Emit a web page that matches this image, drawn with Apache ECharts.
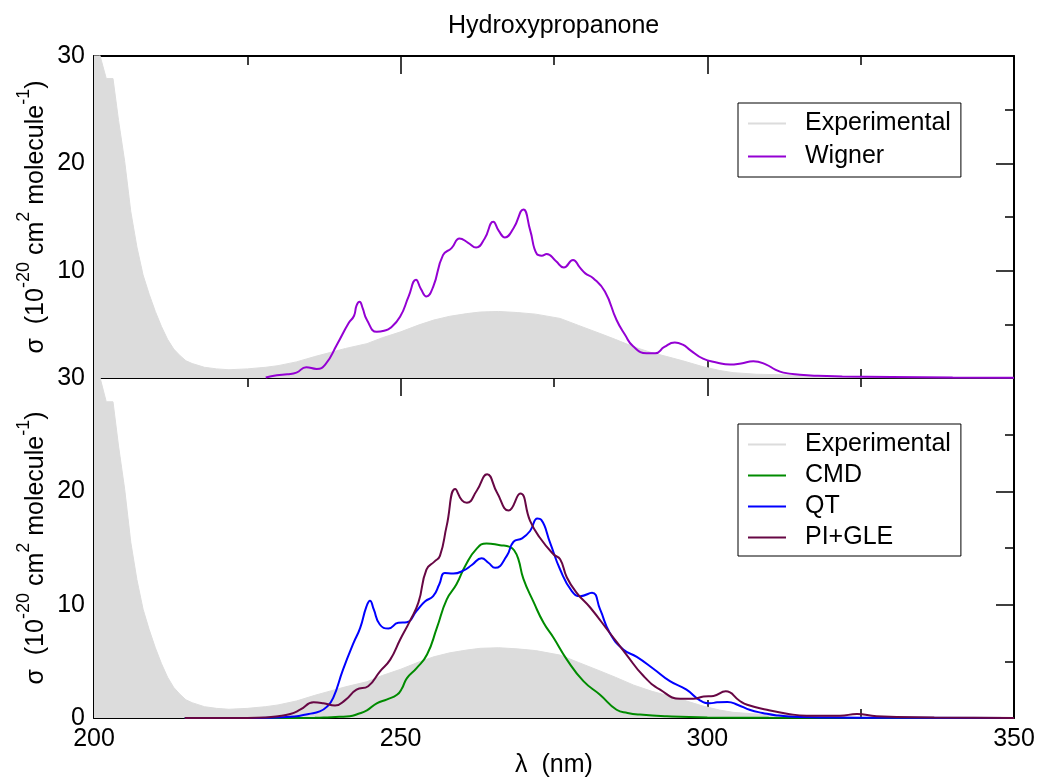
<!DOCTYPE html>
<html>
<head>
<meta charset="utf-8">
<title>Hydroxypropanone</title>
<script src="https://cdn.jsdelivr.net/npm/echarts@6/dist/echarts.min.js"></script>
<style>
  html, body { margin: 0; padding: 0; background: #ffffff; }
  #chart { width: 1037px; height: 781px; }
</style>
</head>
<body>
<div id="chart"></div>
<script>
// Absorption cross sections of hydroxypropanone, sigma in 1e-20 cm^2 molecule^-1, wavelength in nm

const experimentalWl = [200, 201, 202, 203.1, 204, 205, 206, 207, 208, 209, 210, 211, 212, 213, 214, 215, 216, 218, 220, 222, 225, 228, 230, 233, 236, 238, 241, 244.5, 247, 250, 253, 255.4, 258, 260.8, 263, 266, 269, 272, 276, 279, 282.5, 285, 288, 291, 293.4, 296, 299.3, 302, 304.2, 308, 312.4, 316, 320, 325, 330, 350];
const experimentalSigma = [33, 30, 27.9, 27.9, 24, 20.2, 15.5, 12.2, 9.6, 7.8, 6.2, 4.8, 3.6, 2.7, 2.1, 1.6, 1.35, 1.0, 0.85, 0.77, 0.85, 1.0, 1.15, 1.5, 2.0, 2.3, 2.75, 3.2, 3.75, 4.3, 4.95, 5.4, 5.75, 6.0, 6.15, 6.2, 6.1, 5.95, 5.55, 4.9, 4.15, 3.6, 2.9, 2.35, 2.0, 1.6, 1.05, 0.7, 0.5, 0.35, 0.3, 0.2, 0.12, 0.06, 0.02, 0];

const wignerWl = [228, 229.8, 231.5, 233, 234.6, 236.3, 237.7, 239.6, 241.5, 242.4, 242.8, 243.3, 243.8, 244.5, 246.1, 247.3, 248.3, 249.9, 251.3, 252.5, 253.3, 254.2, 255.3, 256.9, 258.3, 259.6, 261, 262.3, 263.7, 265.1, 266, 267, 268.4, 270, 271.1, 272.2, 273, 273.8, 275.3, 276.6, 278.1, 279.2, 280.1, 281.4, 283.3, 285.2, 286.6, 287.9, 290.1, 291.5, 293, 294.7, 296, 297.2, 299.3, 301.5, 303.7, 305.5, 307.5, 309.6, 311, 312.4, 315.1, 318, 322, 330, 340, 350];
const wignerSigma = [0.05, 0.25, 0.35, 0.5, 1.0, 0.85, 1.25, 3.1, 5.1, 5.8, 6.75, 7.1, 6.5, 5.4, 4.3, 4.4, 4.65, 5.7, 7.6, 9.15, 8.3, 7.6, 8.5, 11.45, 12.1, 13.0, 12.6, 12.15, 13.0, 14.55, 13.7, 13.1, 13.95, 15.7, 13.8, 11.55, 11.4, 11.55, 10.9, 10.3, 11.0, 10.3, 9.75, 9.3, 8.05, 5.4, 4.0, 2.95, 2.3, 2.3, 2.9, 3.3, 3.1, 2.6, 1.8, 1.45, 1.25, 1.35, 1.55, 1.25, 0.8, 0.5, 0.3, 0.2, 0.15, 0.1, 0.05, 0.03];

const cmdWl = [214.8, 230, 236, 238, 240, 241.7, 243, 244.5, 246.1, 247.8, 249.4, 250.2, 251, 252.6, 254.3, 255.9, 257.5, 259.1, 260.5, 262.4, 264, 266.2, 267.8, 268.5, 269.2, 270, 271.7, 273.3, 274.9, 277.1, 279.8, 282.5, 285.2, 287, 289, 293.4, 300, 310, 350];
const cmdSigma = [0, 0, 0.02, 0.05, 0.1, 0.15, 0.35, 0.67, 1.3, 1.65, 2.05, 2.6, 3.5, 4.4, 5.6, 7.95, 10.45, 11.8, 13.4, 14.95, 15.4, 15.25, 15.1, 14.8, 14.0, 12.3, 10.2, 8.4, 7.1, 5.15, 3.25, 2.05, 0.73, 0.45, 0.3, 0.15, 0.05, 0.02, 0];

const qtWl = [214.8, 225, 229, 232, 233.6, 235, 236.8, 238, 239, 240.6, 242.3, 243.4, 244.4, 245, 245.6, 246.6, 248, 249.6, 251, 252.6, 254, 255.3, 256.3, 257.2, 258.6, 260.2, 261.6, 263.2, 264.3, 265.4, 267.3, 268.4, 269.8, 271.1, 272.3, 272.9, 274.4, 276, 277.9, 279.3, 281.2, 282.5, 284.1, 286.3, 288.5, 291.2, 293.9, 296.6, 298.8, 300.4, 301.6, 303.3, 305, 307, 309, 311.3, 315.1, 320, 330, 350];
const qtSigma = [0, 0, 0.03, 0.1, 0.2, 0.35, 0.58, 1.0, 1.77, 4.27, 6.6, 7.95, 9.8, 10.35, 9.6, 8.25, 7.9, 8.4, 8.45, 9.45, 10.3, 10.75, 11.8, 12.8, 12.75, 13.0, 13.5, 14.1, 13.7, 13.25, 14.3, 15.55, 15.85, 16.5, 17.6, 17.5, 15.4, 13.1, 11.2, 10.75, 11.05, 9.6, 7.5, 6.05, 5.4, 4.35, 3.25, 2.5, 1.56, 1.3, 1.38, 1.42, 1.15, 0.7, 0.45, 0.23, 0.08, 0.04, 0.02, 0];

const pigleWl = [214.8, 222, 228, 230, 232, 233.6, 235.8, 237.4, 239.3, 241, 242.8, 244.7, 246.6, 248.3, 249.9, 251.5, 252.9, 254.2, 255.5, 256.4, 257.5, 258.9, 260, 260.8, 262.4, 264.1, 265.7, 267.6, 269.5, 271.1, 272.7, 274.9, 276, 277.1, 278.7, 280.9, 284.1, 286.8, 289.6, 292.3, 295.6, 297.7, 299.4, 301, 303, 305.3, 306.5, 309.7, 313, 316.2, 321.6, 324.4, 327.6, 337, 350];
const pigleSigma = [0, 0, 0.05, 0.15, 0.35, 0.73, 1.38, 1.3, 1.1, 1.6, 2.5, 2.8, 4.1, 5.15, 6.9, 8.55, 10.2, 13.1, 13.8, 14.3, 16.95, 20.2, 19.2, 19.0, 20.05, 21.5, 19.9, 18.3, 19.8, 17.4, 15.9, 14.45, 14.0, 12.4, 11.05, 9.75, 7.5, 5.6, 3.7, 2.5, 1.7, 1.7, 1.9, 1.95, 2.35, 1.5, 1.17, 0.73, 0.38, 0.2, 0.2, 0.35, 0.15, 0.05, 0];

const xTicks = { min: 200, max: 350, interval: 50 };
const yTicks = { min: 0, max: 30, interval: 10 };

const FONT = '"Liberation Sans", Arial, Helvetica, sans-serif';
const INK = '#000000';
const COLORS = {
  experimental: '#dcdcdc',
  wigner: '#9400d3',
  cmd: '#008b00',
  qt: '#0000ff',
  pigle: '#670744'
};

const zip = (xs, ys) => xs.map((x, i) => [x, ys[i]]);

function xAxis(gridIndex, position, withLabels) {
  const ax = {
    type: 'value', gridIndex, position,
    min: xTicks.min, max: xTicks.max, interval: xTicks.interval,
    axisLine: { show: true, onZero: false, lineStyle: { color: INK, width: 2 } },
    axisTick: { show: true, inside: true, length: 18, lineStyle: { color: INK, width: 1.5 } },
    minorTick: { show: true, splitNumber: 2, length: 9, lineStyle: { color: INK, width: 1.5 } },
    splitLine: { show: false },
    minorSplitLine: { show: false },
    axisLabel: { show: withLabels, margin: 9, fontSize: 25, color: INK, fontFamily: FONT },
    silent: true
  };
  if (withLabels) {
    ax.name = 'λ  (nm)';
    ax.nameLocation = 'middle';
    ax.nameGap = 33;
    ax.nameTextStyle = { fontSize: 25, color: INK, fontFamily: FONT };
  }
  return ax;
}

function yAxis(gridIndex, position, withLabels, hideMin) {
  const ax = {
    type: 'value', gridIndex, position,
    min: yTicks.min, max: yTicks.max, interval: yTicks.interval,
    axisLine: { show: true, onZero: false, lineStyle: { color: INK, width: 2 } },
    axisTick: { show: true, inside: true, length: 18, lineStyle: { color: INK, width: 1.5 } },
    minorTick: { show: true, splitNumber: 2, length: 9, lineStyle: { color: INK, width: 1.5 } },
    splitLine: { show: false },
    minorSplitLine: { show: false },
    axisLabel: { show: withLabels, margin: 9, fontSize: 25, color: INK, fontFamily: FONT, showMinLabel: !hideMin },
    silent: true
  };
  if (withLabels) {
    ax.name = '{m|σ  (10}{s|-20}{m| cm}{s|2}{m| molecule}{s|-1}{m|)}';
    ax.nameLocation = 'middle';
    ax.nameRotate = 90;
    ax.nameGap = 36;
    ax.nameMoveOverlap = false;
    ax.nameTextStyle = {
      rich: {
        m: { fontSize: 25, lineHeight: 43, color: INK, fontFamily: FONT },
        s: { fontSize: 18, lineHeight: 18, verticalAlign: 'top', color: INK, fontFamily: FONT }
      }
    };
  }
  return ax;
}

function legend(top, names, lineHeight, padding) {
  return {
    orient: 'vertical',
    left: 738, top,
    data: names,
    icon: 'rect',
    itemWidth: 38,
    itemHeight: 2,
    itemGap: 0,
    padding,
    backgroundColor: '#ffffff',
    borderColor: INK,
    borderWidth: 1,
    borderRadius: 0,
    selectedMode: false,
    textStyle: { fontSize: 25, lineHeight, color: INK, fontFamily: FONT, padding: [0, 0, 0, 14] }
  };
}

function experimentalSeries(axisIndex) {
  return {
    name: 'Experimental', type: 'line',
    xAxisIndex: axisIndex, yAxisIndex: axisIndex,
    data: zip(experimentalWl, experimentalSigma),
    showSymbol: false, symbol: 'none', smooth: false,
    itemStyle: { color: COLORS.experimental },
    lineStyle: { color: COLORS.experimental, width: 1 },
    areaStyle: { color: COLORS.experimental, opacity: 1, origin: 'start' },
    clip: true, z: 1, silent: true
  };
}

function curve(name, axisIndex, wl, sigma, color, z) {
  return {
    name, type: 'line',
    xAxisIndex: axisIndex, yAxisIndex: axisIndex,
    data: zip(wl, sigma),
    showSymbol: false, symbol: 'none', smooth: 0.5,
    itemStyle: { color },
    lineStyle: { color, width: 2 },
    clip: true, z, silent: true
  };
}

const chart = echarts.init(document.getElementById('chart'), null, { renderer: 'canvas' });

chart.setOption({
  animation: false,
  backgroundColor: '#ffffff',
  title: {
    text: 'Hydroxypropanone',
    left: 448, top: 14, padding: 0,
    textStyle: { fontSize: 25, fontWeight: 'normal', color: INK, fontFamily: FONT }
  },
  grid: [
    { left: 94, top: 56, width: 920, height: 322, outerBoundsMode: 'none', containLabel: false },
    { left: 94, top: 378, width: 920, height: 340, outerBoundsMode: 'none', containLabel: false }
  ],
  xAxis: [
    xAxis(0, 'bottom', false),
    xAxis(1, 'bottom', true),
    xAxis(0, 'top', false),
    xAxis(1, 'top', false)
  ],
  yAxis: [
    yAxis(0, 'left', true, true),
    yAxis(1, 'left', true, false),
    yAxis(0, 'right', false, false),
    yAxis(1, 'right', false, false)
  ],
  legend: [
    legend(103, ['Experimental', 'Wigner'], 33, [4, 10, 4, 10]),
    legend(424, ['Experimental', 'CMD', 'QT', 'PI+GLE'], 31, [5, 10, 3, 10])
  ],
  series: [
    experimentalSeries(0),
    curve('Wigner', 0, wignerWl, wignerSigma, COLORS.wigner, 3),
    experimentalSeries(1),
    curve('CMD', 1, cmdWl, cmdSigma, COLORS.cmd, 3),
    curve('QT', 1, qtWl, qtSigma, COLORS.qt, 4),
    curve('PI+GLE', 1, pigleWl, pigleSigma, COLORS.pigle, 5)
  ]
});
</script>
</body>
</html>
